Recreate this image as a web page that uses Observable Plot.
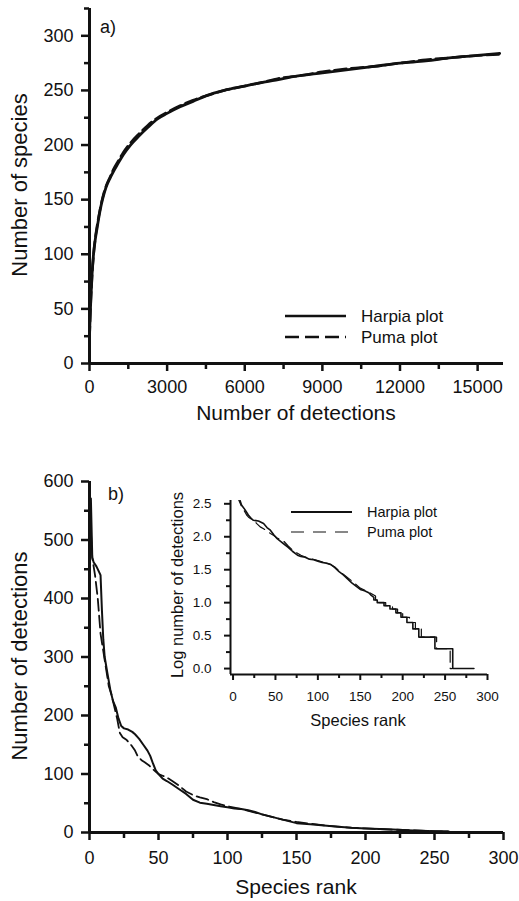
<!DOCTYPE html>
<html>
<head>
<meta charset="utf-8">
<script src="https://cdn.jsdelivr.net/npm/d3@7"></script>
<script src="https://cdn.jsdelivr.net/npm/@observablehq/plot@0.6"></script>
<style>
  html, body { margin: 0; padding: 0; background: #fff; }
  #chart { position: relative; width: 519px; height: 901px; overflow: hidden;
           font-family: "Liberation Sans", Arial, Helvetica, sans-serif; color: #111; }
  #chart > * { position: absolute; }
  .t { white-space: nowrap; line-height: 1; transform: translate(-50%, -50%); }
  .tv { white-space: nowrap; line-height: 1; transform: translate(-50%, -50%) rotate(-90deg); }
  .lg { white-space: nowrap; line-height: 1; transform: translateY(-50%); }
</style>
</head>
<body>
<div id="chart"></div>
<script>
// ---------- Panel a: species accumulation ----------
const aHarpiaDet = [0, 20, 50, 100, 155, 220, 300, 400, 500, 650, 800, 930, 1100, 1300, 1585, 1900, 2250, 2630, 3000, 3500, 4000, 4500, 5200, 6000, 6600, 7300, 8000, 9000, 10000, 11000, 12000, 13000, 14000, 15000, 15850];
const aHarpiaSp  = [25, 40, 58, 82, 100, 113, 125, 139, 150, 162, 170, 176, 183, 191, 200, 208, 216, 224, 229, 235, 240, 245, 250, 254, 257, 260, 263, 266, 269, 272, 275, 277, 280, 282, 284];
const aPumaDet   = [0, 20, 50, 100, 155, 220, 300, 400, 500, 650, 800, 930, 1100, 1300, 1585, 1900, 2250, 2630, 3000, 3500, 4000, 4500, 5200, 6000, 6600, 7300, 8000, 9000, 10000, 11000, 12000, 13000, 14000, 15000, 15900];
const aPumaSp    = [23, 38, 57, 81, 99, 114, 127, 140, 151, 163, 171, 178, 185, 193, 202, 210, 218, 225, 230, 236, 241, 245, 250, 254, 257, 261, 263, 267, 270, 272, 275, 278, 280, 282, 283];
const aXTicks = [0, 3000, 6000, 9000, 12000, 15000];
const aXMinor = [1500, 4500, 7500, 10500, 13500];
const aYTicks = [0, 50, 100, 150, 200, 250, 300];
const aYMinor = [25, 75, 125, 175, 225, 275, 325];

// ---------- Panel b: rank abundance ----------
const bHarpiaRank = [1, 2, 3, 5, 7, 8, 9, 10, 11, 13, 15, 17, 19, 21, 23, 25, 28, 31, 33, 36, 39, 42, 44, 46, 48, 50, 53, 56, 60, 65, 70, 75, 80, 85, 90, 95, 100, 105, 110, 115, 120, 125, 130, 140, 150, 160, 170, 180, 190, 200, 210, 220, 230, 240, 250, 260, 261, 285];
const bHarpiaDet  = [571, 470, 462, 455, 445, 440, 380, 330, 300, 272, 245, 225, 214, 195, 182, 178, 176, 172, 168, 160, 150, 140, 131, 118, 106, 100, 92, 88, 82, 74, 66, 56, 51, 49, 47, 45, 43, 41, 40, 38, 35, 31, 28, 22, 16, 14, 12, 10, 8, 7, 6, 5, 4, 3, 2, 2, 1, 1];
const bPumaRank = [1, 2, 4, 6, 8, 10, 12, 14, 16, 18, 20, 22, 24, 27, 30, 33, 35, 38, 40, 43, 46, 50, 53, 56, 60, 65, 70, 75, 80, 85, 90, 95, 100, 110, 120, 130, 140, 150, 160, 170, 180, 190, 200, 220, 240, 255, 258];
const bPumaDet  = [515, 470, 440, 400, 340, 310, 280, 250, 235, 215, 195, 170, 163, 158, 150, 140, 130, 123, 120, 115, 108, 100, 97, 94, 88, 80, 70, 64, 60, 57, 52, 48, 45, 40, 34, 28, 22, 18, 15, 12, 10, 8, 7, 5, 3, 2, 1];
const bXTicks = [0, 50, 100, 150, 200, 250, 300];
const bXMinor = [25, 75, 125, 175, 225, 275];
const bYTicks = [0, 100, 200, 300, 400, 500, 600];
const bYMinor = [50, 150, 250, 350, 450, 550];

// ---------- Inset: log number of detections ----------
const iHarpiaRank = [5, 7, 10, 13, 15, 18, 20, 22, 24, 27, 30, 33, 36, 40, 44, 48, 52, 56, 60, 65, 70, 76, 80, 85, 90, 95, 100, 105, 110, 115, 120, 125, 130, 135, 140, 145, 150, 155, 160, 163, 166];
const iHarpiaLog  = [2.65, 2.60, 2.48, 2.43, 2.39, 2.33, 2.30, 2.27, 2.25, 2.245, 2.24, 2.22, 2.20, 2.14, 2.10, 2.03, 1.97, 1.93, 1.89, 1.84, 1.78, 1.72, 1.70, 1.69, 1.66, 1.65, 1.63, 1.61, 1.60, 1.58, 1.53, 1.47, 1.42, 1.36, 1.30, 1.25, 1.20, 1.18, 1.15, 1.11, 1.08];
// tail: integer counts held over rank ranges (start, end)
const iHarpiaTailCount = [11, 10, 9, 8, 7, 6, 5, 4, 3, 2, 1];
const iHarpiaTailStart = [166, 170, 178, 185, 192, 198, 205, 212, 219, 238, 259];
const iHarpiaTailEnd   = [170, 178, 185, 192, 198, 205, 212, 219, 238, 259, 284];
const iPumaRank = [4, 7, 10, 13, 16, 18, 20, 25, 28, 32, 36, 40, 44, 48, 52, 56, 60, 65, 70, 76, 80, 90, 100, 110, 115, 120, 130, 140, 150, 160, 168];
const iPumaLog  = [2.62, 2.55, 2.46, 2.40, 2.33, 2.30, 2.28, 2.24, 2.20, 2.15, 2.12, 2.09, 2.05, 2.02, 1.98, 1.96, 1.93, 1.86, 1.80, 1.75, 1.72, 1.67, 1.64, 1.60, 1.58, 1.54, 1.43, 1.33, 1.22, 1.16, 1.10];
const iPumaTailCount = [11, 10, 9, 8, 7, 6, 5, 4, 3, 2, 1];
const iPumaTailStart = [168, 172, 180, 188, 194, 200, 208, 215, 222, 240, 256];
const iPumaTailEnd   = [172, 180, 188, 194, 200, 208, 215, 222, 240, 256, 258];
const iXTicks = [0, 50, 100, 150, 200, 250, 300];
const iXMinor = [25, 75, 125, 175, 225, 275];
const iYTicks = [0, 0.5, 1.0, 1.5, 2.0, 2.5];
const iYMinor = [0.25, 0.75, 1.25, 1.75, 2.25];

const labels = {
  aY: "Number of species", aX: "Number of detections",
  bY: "Number of detections", bX: "Species rank",
  iY: "Log number of detections", iX: "Species rank",
  harpia: "Harpia plot", puma: "Puma plot", a: "a)", b: "b)"
};

// ---------- build tables ----------
const zip = (xs, ys, kx, ky) => xs.map((v, i) => ({[kx]: v, [ky]: ys[i]}));
const aHarpia = zip(aHarpiaDet, aHarpiaSp, "det", "sp");
const aPuma = zip(aPumaDet, aPumaSp, "det", "sp");
const bHarpia = zip(bHarpiaRank, bHarpiaDet, "rank", "det");
const bPuma = zip(bPumaRank, bPumaDet, "rank", "det");
function insetSeries(ranks, logs, counts, starts, ends) {
  const pts = zip(ranks, logs, "rank", "log");
  counts.forEach((c, i) => {
    const v = Math.log10(c);
    pts.push({rank: starts[i], log: v});
    pts.push({rank: ends[i], log: v});
  });
  return pts;
}
const iHarpia = insetSeries(iHarpiaRank, iHarpiaLog, iHarpiaTailCount, iHarpiaTailStart, iHarpiaTailEnd);
const iPuma = insetSeries(iPumaRank, iPumaLog, iPumaTailCount, iPumaTailStart, iPumaTailEnd);

const FONT = '"Liberation Sans", Arial, Helvetica, sans-serif';
const INK = "#111";
const fmtInt = d3.format("d");
const blank = () => "";

const chart = document.getElementById("chart");
function put(el, left, top) { el.style.left = left + "px"; el.style.top = top + "px"; chart.appendChild(el); return el; }
function text(str, cls, x, y, size) {
  const d = document.createElement("div");
  d.className = cls; d.textContent = str; d.style.fontSize = size + "px";
  return put(d, x, y);
}

// ---------- Panel a ----------
const plotA = Plot.plot({
  width: 519, height: 400,
  marginLeft: 89, marginRight: 16, marginTop: 8, marginBottom: 37,
  x: {domain: [0, 16000]},
  y: {domain: [0, 325]},
  style: {fontFamily: FONT, fontSize: "18px", color: INK, background: "transparent", overflow: "visible"},
  marks: [
    Plot.line(aHarpia, {x: "det", y: "sp", stroke: INK, strokeWidth: 2.8, curve: "monotone-x"}),
    Plot.line(aPuma, {x: "det", y: "sp", stroke: INK, strokeWidth: 2.6, strokeDasharray: "12,5", curve: "monotone-x"}),
    Plot.axisX({ticks: aXTicks, tickSize: 8, tickPadding: 9, strokeWidth: 2.5, tickFormat: fmtInt, label: null, fill: INK}),
    Plot.axisX({ticks: aXMinor, tickSize: 6, strokeWidth: 2.5, tickFormat: blank, label: null}),
    Plot.axisY({ticks: aYTicks, tickSize: 8, tickPadding: 8, strokeWidth: 2.5, tickFormat: fmtInt, label: null, fill: INK}),
    Plot.axisY({ticks: aYMinor, tickSize: 5, strokeWidth: 2.5, tickFormat: blank, label: null}),
    Plot.ruleX([0], {stroke: INK, strokeWidth: 3}),
    Plot.ruleY([0], {stroke: INK, strokeWidth: 3})
  ]
});
put(plotA, 0, 0);

// ---------- Panel b ----------
const plotB = Plot.plot({
  width: 519, height: 410,
  marginLeft: 89, marginRight: 16, marginTop: 11, marginBottom: 48,
  x: {domain: [0, 300]},
  y: {domain: [0, 600]},
  style: {fontFamily: FONT, fontSize: "18px", color: INK, background: "transparent", overflow: "visible"},
  marks: [
    Plot.line(bPuma, {x: "rank", y: "det", stroke: INK, strokeWidth: 1.8, strokeDasharray: "12,5"}),
    Plot.line(bHarpia, {x: "rank", y: "det", stroke: INK, strokeWidth: 2}),
    Plot.axisX({ticks: bXTicks, tickSize: 8, tickPadding: 11, strokeWidth: 2.5, tickFormat: fmtInt, label: null, fill: INK}),
    Plot.axisX({ticks: bXMinor, tickSize: 6, strokeWidth: 2.5, tickFormat: blank, label: null}),
    Plot.axisY({ticks: bYTicks, tickSize: 8, tickPadding: 8, strokeWidth: 2.5, tickFormat: fmtInt, label: null, fill: INK}),
    Plot.axisY({ticks: bYMinor, tickSize: 5, strokeWidth: 2.5, tickFormat: blank, label: null}),
    Plot.ruleX([0], {stroke: INK, strokeWidth: 3}),
    Plot.ruleY([0], {stroke: INK, strokeWidth: 3})
  ]
});
put(plotB, 0, 470);

// ---------- Inset ----------
const plotI = Plot.plot({
  width: 340, height: 250,
  marginLeft: 70, marginRight: 13, marginTop: 20, marginBottom: 56,
  x: {domain: [-3, 300]},
  y: {domain: [-0.09, 2.55]},
  style: {fontFamily: FONT, fontSize: "13.5px", color: INK, background: "transparent", overflow: "visible"},
  marks: [
    Plot.line(iPuma, {x: "rank", y: "log", stroke: INK, strokeWidth: 1.2, strokeDasharray: "11,6", clip: true}),
    Plot.line(iHarpia, {x: "rank", y: "log", stroke: INK, strokeWidth: 1.6, clip: true}),
    Plot.axisX({ticks: iXTicks, tickSize: 6, tickPadding: 11, strokeWidth: 2, tickFormat: fmtInt, label: null, fill: INK}),
    Plot.axisX({ticks: iXMinor, tickSize: 4, strokeWidth: 2, tickFormat: blank, label: null}),
    Plot.axisY({ticks: iYTicks, tickSize: 6, tickPadding: 13, strokeWidth: 2, tickFormat: d3.format(".1f"), label: null, fill: INK}),
    Plot.axisY({ticks: iYMinor, tickSize: 4, strokeWidth: 2, tickFormat: blank, label: null}),
    Plot.ruleX([-3], {stroke: INK, strokeWidth: 2}),
    Plot.ruleY([-0.09], {stroke: INK, strokeWidth: 2})
  ]
});
put(plotI, 160, 480);

// ---------- axis titles and panel labels ----------
text(labels.aY, "tv", 20, 185, 22);
text(labels.aX, "t", 296, 412, 21);
text(labels.bY, "tv", 20, 656, 22);
text(labels.bX, "t", 296, 886, 21);
text(labels.iY, "tv", 177, 585, 16.5);
text(labels.iX, "t", 358, 720, 16.5);
text(labels.a, "t", 108, 27, 18);
text(labels.b, "t", 116, 494, 18);

// ---------- legends ----------
function legend(x1, x2, y, gap, size, sw, dash, label) {
  const svg = document.createElementNS("http://www.w3.org/2000/svg", "svg");
  svg.setAttribute("width", x2 - x1 + 4); svg.setAttribute("height", 10);
  const ln = document.createElementNS("http://www.w3.org/2000/svg", "line");
  ln.setAttribute("x1", 0); ln.setAttribute("x2", x2 - x1); ln.setAttribute("y1", 5); ln.setAttribute("y2", 5);
  ln.setAttribute("stroke", INK); ln.setAttribute("stroke-width", sw);
  if (dash) ln.setAttribute("stroke-dasharray", dash);
  svg.appendChild(ln);
  put(svg, x1, y - 5);
  text(label, "lg", x2 + gap, y, size);
}
legend(285, 346, 316, 15, 17, 2.6, null, labels.harpia);
legend(285, 346, 337, 15, 17, 2.6, "14,6", labels.puma);
legend(291, 352, 512, 15, 14.5, 1.8, null, labels.harpia);
legend(291, 352, 532, 15, 14.5, 1.2, "13,9", labels.puma);
</script>
</body>
</html>
